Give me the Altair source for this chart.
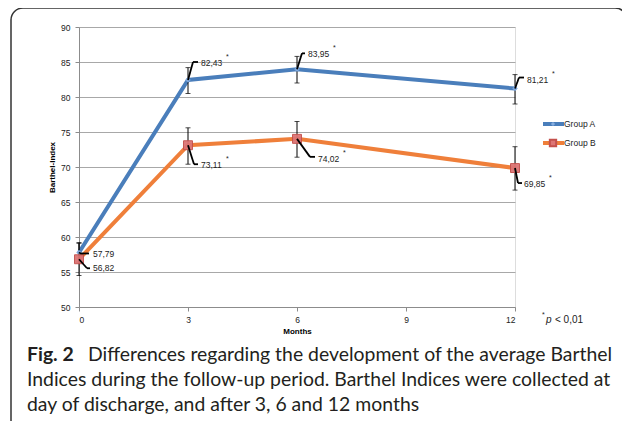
import altair as alt
import pandas as pd

# ---------------- data ----------------
months = [0, 3, 6, 12]
group_names = ["Group A", "Group B"]
group_a = [57.79, 82.43, 83.95, 81.21]
group_b = [56.82, 73.11, 74.02, 69.85]
group_a_low = [56.4, 80.5, 82.0, 79.0]
group_a_high = [59.2, 84.2, 85.8, 83.2]
group_b_low = [54.5, 70.4, 71.4, 66.7]
group_b_high = [59.1, 75.6, 76.5, 72.9]
significant = [False, True, True, True]
x_ticks = [0, 3, 6, 9, 12]
y_ticks = [50, 55, 60, 65, 70, 75, 80, 85, 90]
caption_bold = "Fig. 2"
caption_lines = [
    "Differences regarding the development of the average Barthel",
    "Indices during the follow-up period. Barthel Indices were collected at",
    "day of discharge, and after 3, 6 and 12 months",
]
note_text = "< 0,01"

rows = []
for name, vals, lo, hi in [
    (group_names[0], group_a, group_a_low, group_a_high),
    (group_names[1], group_b, group_b_low, group_b_high),
]:
    for m, v, l, h, s in zip(months, vals, lo, hi, significant):
        rows.append({"month": m, "group": name, "value": v, "lo": l, "hi": h,
                     "label": f"{v:.2f}".replace(".", ","), "sig": s})
df = pd.DataFrame(rows)
one = pd.DataFrame({"k": [0]})

# ---------------- style ----------------
BLUE = "#4a7ebb"
ORANGE = "#ef7f3a"
FONT = "Liberation Sans"
W, H = 436, 280

xs = alt.Scale(domain=[0, 12], nice=False, zero=False)
ys = alt.Scale(domain=[50, 90], nice=False, zero=False)
color = alt.Color("group:N", scale=alt.Scale(domain=group_names, range=[BLUE, ORANGE]), legend=None)

x_axis = alt.Axis(values=x_ticks, grid=False, title="Months",
                  titleFontWeight="bold", titleFontSize=8, titleFont=FONT, titlePadding=4,
                  labelFontSize=8.5, labelFont=FONT, labelPadding=4, tickSize=4, labelColor="#222",
                  domainColor="#8c8c8c", tickColor="#8c8c8c", format="d", labelOverlap=False)
y_axis = alt.Axis(values=y_ticks, grid=True, gridColor="#a8a8a8",
                  title="Barthel-Index", titleFontWeight="bold", titleFontSize=8, titleFont=FONT,
                  titlePadding=4, labelFontSize=8.5, labelFont=FONT, labelPadding=5, tickSize=4,
                  labelColor="#222", domainColor="#8c8c8c", tickColor="#8c8c8c", format="d",
                  labelOverlap=False)


def X(field="month"):
    return alt.X(f"{field}:Q", scale=xs, axis=x_axis)


def Y(field="value"):
    return alt.Y(f"{field}:Q", scale=ys, axis=y_axis)


base = alt.Chart(df)

lines = base.mark_line(strokeWidth=4).encode(x=X(), y=Y(), color=color)

pts_a = base.transform_filter(alt.datum.group == group_names[0]).mark_point(
    shape="diamond", filled=True, size=30, color="#7ea7dc", opacity=1).encode(x=X(), y=Y())
pts_b = base.transform_filter(alt.datum.group == group_names[1]).mark_point(
    shape="square", filled=True, size=80, fill="#dd7575", stroke="#c4504c",
    strokeWidth=1, opacity=0.95).encode(x=X(), y=Y())

err = base.mark_rule(color="black", strokeWidth=1).encode(x=X(), y=Y("lo"), y2="hi:Q")
cap_lo = base.mark_tick(color="black", thickness=1, size=5, orient="horizontal").encode(
    x=X(), y=Y("lo"))
cap_hi = base.mark_tick(color="black", thickness=1, size=5, orient="horizontal").encode(
    x=X(), y=Y("hi"))

# label callouts: (corner dx, dy), (end dx, dy), (text dx, dy)
callouts = {
    ("Group A", 0): ((1, 1), (10, 1), (14, 2)),
    ("Group A", 3): ((5, -18), (10, -18), (13, -17)),
    ("Group A", 6): ((5, -16), (8, -16), (11, -15)),
    ("Group A", 12): ((4, -11), (9, -11), (12, -9)),
    ("Group B", 0): ((8, 9), (11, 9), (14, 9)),
    ("Group B", 3): ((6, 19), (10, 19), (13, 20)),
    ("Group B", 6): ((13, 18), (18, 18), (21, 20)),
    ("Group B", 12): ((3, 15), (7, 15), (9, 16)),
}
label_layers = []
for (g, m), ((cx, cy), (ex, ey), (tx, ty)) in callouts.items():
    sub = base.transform_filter((alt.datum.group == g) & (alt.datum.month == m))
    enc = dict(x=X(), y=Y())
    label_layers.append(sub.mark_rule(color="black", strokeWidth=1.8, x2Offset=cx, y2Offset=cy).encode(
        x2="month:Q", y2="value:Q", **enc))
    label_layers.append(sub.mark_rule(color="black", strokeWidth=1.8, xOffset=cx, yOffset=cy,
                                      x2Offset=ex, y2Offset=ey).encode(x2="month:Q", y2="value:Q", **enc))
    label_layers.append(sub.mark_text(align="left", baseline="middle", dx=tx, dy=ty, font=FONT,
                                      fontSize=8.5, color="#222").encode(text="label:N", **enc))
    label_layers.append(sub.transform_filter(alt.datum.sig).mark_text(
        align="left", baseline="middle", dx=tx + 25, dy=ty - 6, font=FONT, fontSize=7,
        color="#222").encode(text=alt.value("*"), **enc))

# ---------------- legend ----------------
ob = alt.Chart(one)
legend_layers = []
for i, (g, c) in enumerate(zip(group_names, [BLUE, ORANGE])):
    yy = 97 + i * 19
    legend_layers.append(ob.mark_rule(color=c, strokeWidth=4).encode(
        x=alt.value(464), x2=alt.value(485), y=alt.value(yy)))
    legend_layers.append(ob.mark_text(align="left", baseline="middle", font=FONT, fontSize=8.5,
                                      color="#222").encode(x=alt.value(485), y=alt.value(yy),
                                                           text=alt.value(g)))
legend_layers.append(ob.mark_point(shape="diamond", filled=True, size=18, color="#86aee0",
                                   opacity=1).encode(x=alt.value(474), y=alt.value(97)))
legend_layers.append(ob.mark_point(shape="square", filled=True, size=40, fill="#dd7575",
                                   stroke="#c4504c", opacity=1).encode(x=alt.value(474), y=alt.value(116)))

# p-value note
note = [
    ob.mark_text(align="left", baseline="middle", font=FONT, fontSize=7, color="#222").encode(
        x=alt.value(463), y=alt.value(288), text=alt.value("*")),
    ob.mark_text(align="left", baseline="middle", font=FONT, fontSize=10, fontStyle="italic",
                 color="#222").encode(x=alt.value(467), y=alt.value(293), text=alt.value("p")),
    ob.mark_text(align="left", baseline="middle", font=FONT, fontSize=10, color="#222").encode(
        x=alt.value(476), y=alt.value(293), text=alt.value(note_text)),
]

# caption
CAPFONT = "Lato"
CAPSIZE = 19.4
caption = [
    ob.mark_text(align="left", baseline="alphabetic", font=CAPFONT, fontSize=CAPSIZE, fontWeight="bold",
                 color="#231f20").encode(x=alt.value(27 - 79), y=alt.value(361 - 27),
                                         text=alt.value(caption_bold)),
    ob.mark_text(align="left", baseline="alphabetic", font=CAPFONT, fontSize=CAPSIZE,
                 color="#231f20").encode(x=alt.value(88 - 79), y=alt.value(361 - 27),
                                         text=alt.value(caption_lines[0])),
    ob.mark_text(align="left", baseline="alphabetic", font=CAPFONT, fontSize=CAPSIZE,
                 color="#231f20").encode(x=alt.value(27 - 79), y=alt.value(386 - 27),
                                         text=alt.value(caption_lines[1])),
    ob.mark_text(align="left", baseline="alphabetic", font=CAPFONT, fontSize=CAPSIZE,
                 color="#231f20").encode(x=alt.value(27 - 79), y=alt.value(411 - 27),
                                         text=alt.value(caption_lines[2])),
]

border = ob.mark_rect(fill="transparent", stroke="#333333", strokeWidth=1.5, cornerRadius=12).encode(
    x=alt.value(11 - 79), x2=alt.value(627 - 79), y=alt.value(8 - 27), y2=alt.value(432 - 27))

chart = alt.layer(
    border, lines, err, cap_lo, cap_hi, pts_a, pts_b, *label_layers, *legend_layers, *note, *caption
).properties(
    width=W, height=H,
    autosize=alt.AutoSizeParams(type="none"),
    padding={"left": 71, "top": 19, "right": 614 - 71 - W, "bottom": 413 - 19 - H},
).configure_view(stroke=None).configure(background="white")

chart.save("out.html", embed_options={"renderer": "svg", "actions": False})
